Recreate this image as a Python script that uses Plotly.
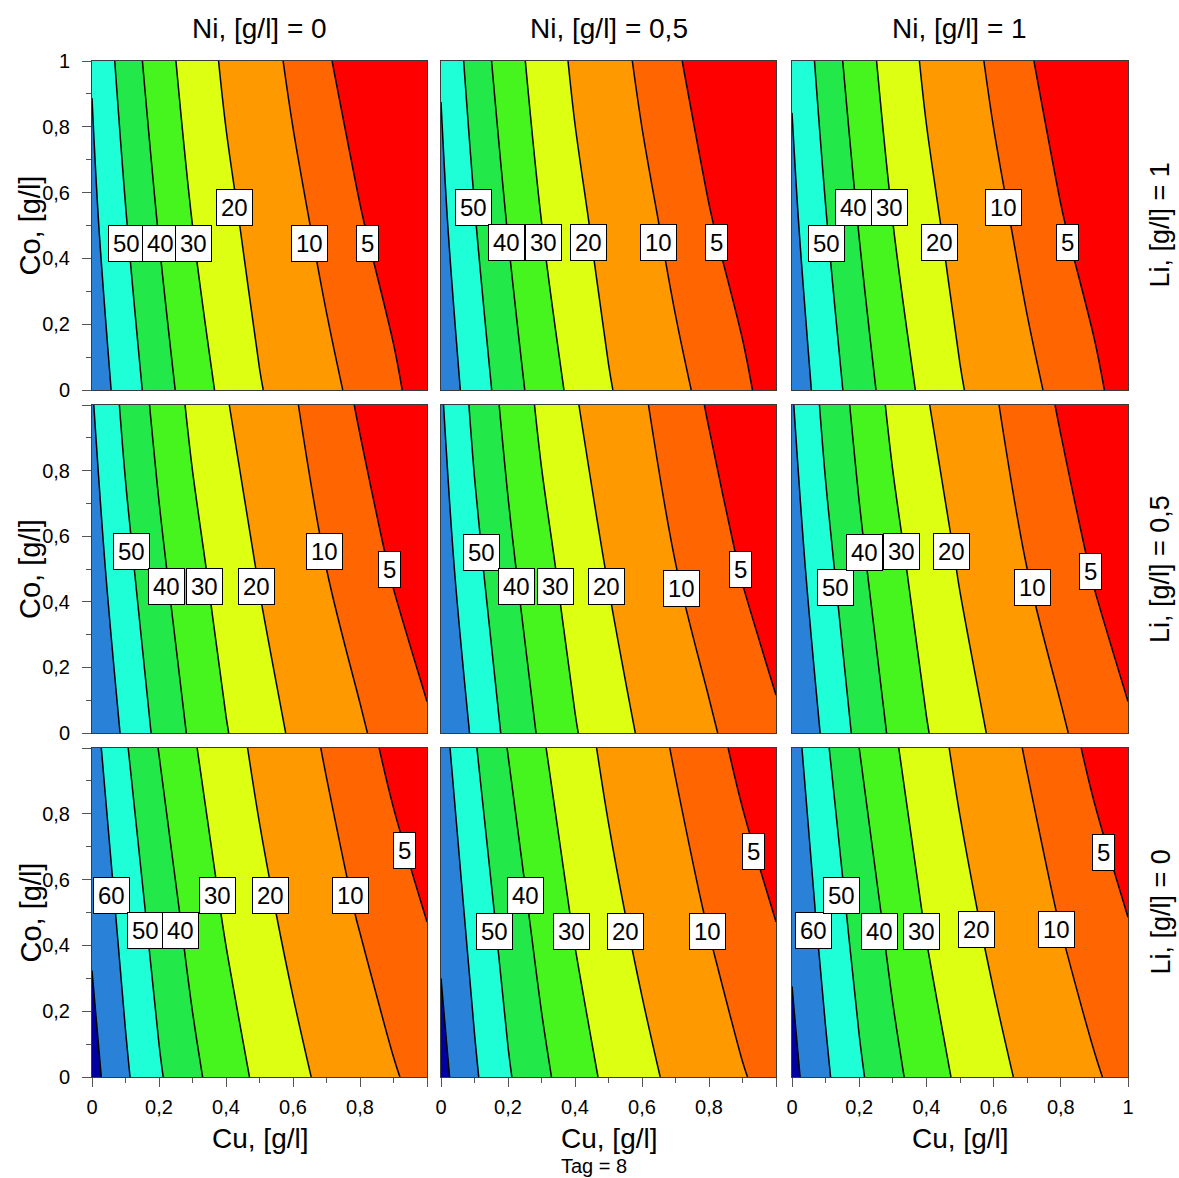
import plotly.graph_objects as go

W, H = 1179, 1178

# ---------------- data ----------------
CU = [0.0, 0.1, 0.2, 0.3, 0.4, 0.5, 0.6, 0.7, 0.8, 0.9, 1.0]   # x grid, Cu [g/l]
CO = [0.0, 0.5, 1.0]                                             # y grid, Co [g/l]
NI_VALUES = ["0", "0,5", "1"]          # columns
LI_VALUES = ["1", "0,5", "0"]          # rows, top to bottom

# z rows follow CO (Co = 0, 0.5, 1), columns follow CU
Z_LI1_NI0 = [[66.0, 55.5, 44.5, 35.2, 27.3, 20.5, 16.0, 11.6, 8.3, 5.7, 3.0],
             [62.4, 50.6, 39.5, 30.0, 22.3, 16.7, 11.9, 8.2, 5.3, 3.2, 1.5],
             [59.3, 45.6, 34.5, 25.6, 18.4, 13.1, 8.7, 5.4, 3.0, 1.5, 0.5]]
Z_LI1_NI05 = [[66.0, 55.6, 44.7, 35.3, 27.4, 20.6, 16.0, 11.5, 8.3, 5.8, 3.1],
              [62.4, 50.6, 39.6, 30.1, 22.4, 16.8, 11.9, 8.2, 5.3, 3.2, 1.5],
              [59.2, 45.6, 34.6, 25.7, 18.5, 13.2, 8.7, 5.5, 3.0, 1.5, 0.5]]
Z_LI1_NI1 = [[66.0, 55.6, 44.7, 35.3, 27.4, 20.6, 16.0, 11.5, 8.3, 5.8, 3.1],
             [62.4, 50.6, 39.6, 30.1, 22.4, 16.8, 11.9, 8.2, 5.3, 3.2, 1.5],
             [58.9, 45.6, 34.6, 25.7, 18.5, 13.2, 8.7, 5.5, 3.0, 1.5, 0.5]]

Z_LI05_NI0 = [[69.8, 58.1, 47.5, 38.3, 30.5, 24.3, 18.8, 14.7, 10.6, 7.9, 5.5],
              [64.8, 52.8, 42.1, 33.0, 25.7, 19.3, 14.7, 10.0, 7.3, 4.6, 2.9],
              [60.7, 47.6, 37.0, 28.0, 20.5, 15.4, 10.5, 7.4, 4.5, 3.0, 1.8]]
Z_LI05_NI05 = [[69.8, 58.3, 47.7, 38.5, 30.6, 24.4, 18.9, 14.8, 10.7, 8.0, 5.6],
               [64.8, 52.8, 42.2, 33.1, 25.8, 19.4, 14.8, 10.1, 7.4, 4.7, 3.0],
               [61.0, 47.8, 37.2, 28.1, 20.6, 15.5, 10.6, 7.5, 4.6, 3.0, 1.8]]
Z_LI05_NI1 = [[69.8, 58.1, 47.5, 38.3, 30.5, 24.3, 18.8, 14.7, 10.6, 7.9, 5.5],
              [64.8, 52.8, 42.1, 33.0, 25.7, 19.3, 14.7, 10.0, 7.3, 4.6, 2.9],
              [60.7, 47.6, 37.0, 28.0, 20.5, 15.4, 10.5, 7.4, 4.5, 3.0, 1.8]]

Z_LI0_NI0 = [[73.3, 61.4, 51.1, 42.3, 34.7, 28.0, 22.5, 17.9, 14.2, 10.4, 8.3],
             [68.2, 56.5, 45.6, 36.5, 28.8, 22.5, 17.4, 13.2, 9.4, 7.1, 4.8],
             [63.5, 50.9, 39.7, 31.0, 23.8, 17.9, 13.4, 9.3, 6.6, 3.8, 2.0]]
Z_LI0_NI05 = [[73.0, 61.3, 51.0, 42.3, 34.6, 27.9, 22.5, 17.9, 14.1, 10.3, 8.3],
              [68.0, 56.4, 45.6, 36.5, 28.8, 22.5, 17.4, 13.2, 9.4, 7.1, 4.8],
              [63.4, 50.8, 39.7, 31.0, 23.8, 17.9, 13.4, 9.3, 6.6, 3.8, 2.0]]
Z_LI0_NI1 = [[72.7, 61.5, 51.4, 42.6, 34.9, 28.2, 22.7, 18.1, 14.3, 10.5, 8.4],
             [67.8, 56.6, 45.9, 36.8, 29.0, 22.7, 17.6, 13.4, 9.5, 7.2, 4.9],
             [63.7, 51.2, 40.0, 31.3, 24.0, 18.1, 13.5, 9.4, 6.7, 3.9, 2.0]]

Z_PANELS = [[Z_LI1_NI0, Z_LI1_NI05, Z_LI1_NI1],
            [Z_LI05_NI0, Z_LI05_NI05, Z_LI05_NI1],
            [Z_LI0_NI0, Z_LI0_NI05, Z_LI0_NI1]]

# contour levels and the colour of each band
BAND_EDGES = [0, 5, 10, 20, 30, 40, 50, 60, 70, 75]
BAND_COLORS = ["#ff0000", "#ff6500", "#ff9900", "#dcff12", "#46f51e",
               "#22e84a", "#1effd8", "#2a82d8", "#0000a0"]

# contour labels of every panel: text
LABEL_TEXT = [[["50", "40", "30", "20", "10", "5"],
               ["50", "40", "30", "20", "10", "5"],
               ["50", "40", "30", "20", "10", "5"]],
              [["50", "40", "30", "20", "10", "5"],
               ["50", "40", "30", "20", "10", "5"],
               ["50", "40", "30", "20", "10", "5"]],
              [["60", "50", "40", "30", "20", "10", "5"],
               ["50", "40", "30", "20", "10", "5"],
               ["60", "50", "40", "30", "20", "10", "5"]]]

# ---------------- layout constants ----------------
LABEL_POS = [[[(0.103, 0.446), (0.204, 0.446), (0.302, 0.446), (0.426, 0.555), (0.648, 0.446), (0.821, 0.446)],
              [(0.097, 0.554), (0.196, 0.447), (0.305, 0.447), (0.440, 0.449), (0.649, 0.447), (0.823, 0.447)],
              [(0.103, 0.444), (0.184, 0.554), (0.289, 0.554), (0.440, 0.449), (0.628, 0.554), (0.820, 0.447)]],
             [[(0.118, 0.553), (0.223, 0.446), (0.337, 0.446), (0.492, 0.446), (0.694, 0.553), (0.888, 0.500)],
              [(0.121, 0.551), (0.226, 0.446), (0.343, 0.448), (0.493, 0.446), (0.718, 0.441), (0.893, 0.497)],
              [(0.128, 0.443), (0.215, 0.551), (0.325, 0.553), (0.474, 0.553), (0.715, 0.443), (0.887, 0.492)]],
             [[(0.058, 0.551), (0.159, 0.445), (0.264, 0.445), (0.376, 0.551), (0.533, 0.551), (0.771, 0.551), (0.932, 0.688)],
              [(0.161, 0.442), (0.251, 0.551), (0.390, 0.442), (0.551, 0.442), (0.796, 0.442), (0.932, 0.685)],
              [(0.063, 0.445), (0.146, 0.551), (0.259, 0.442), (0.386, 0.442), (0.548, 0.447), (0.788, 0.447), (0.927, 0.683)]]]

COL_PX = [(92, 427), (441, 776), (792, 1128)]
ROW_PX = [(61, 390), (405, 733), (748, 1077)]
FONT = "Liberation Sans, Arial, sans-serif"

zmax = BAND_EDGES[-1]
colorscale = []
for i, col in enumerate(BAND_COLORS):
    colorscale.append([BAND_EDGES[i] / zmax, col])
    colorscale.append([BAND_EDGES[i + 1] / zmax, col])

fig = go.Figure()
annotations = []
layout = {}

for r in range(3):
    for c in range(3):
        k = r * 3 + c + 1
        xs = "x" if k == 1 else f"x{k}"
        ys = "y" if k == 1 else f"y{k}"
        z = Z_PANELS[r][c]
        # filled bands
        fig.add_trace(go.Contour(
            x=CU, y=CO, z=z, xaxis=xs, yaxis=ys,
            autocontour=False, zauto=False, zmin=0, zmax=zmax,
            colorscale=colorscale, showscale=False, hoverinfo="skip",
            contours=dict(start=5, end=70, size=5, coloring="fill", showlines=False),
            line=dict(width=0, smoothing=1)))
        # lines at 10, 20, ... 70
        fig.add_trace(go.Contour(
            x=CU, y=CO, z=z, xaxis=xs, yaxis=ys,
            autocontour=False, showscale=False, hoverinfo="skip",
            contours=dict(start=10, end=70, size=10, coloring="none", showlines=True),
            line=dict(color="black", width=1.5, smoothing=1)))
        # line at 5
        fig.add_trace(go.Contour(
            x=CU, y=CO, z=z, xaxis=xs, yaxis=ys, showscale=False, hoverinfo="skip",
            contours=dict(type="constraint", operation="=", value=5),
            line=dict(color="black", width=1.5, smoothing=1)))

        x0, x1 = COL_PX[c]
        y0, y1 = ROW_PX[r]
        xa = dict(domain=[x0 / W, x1 / W], range=[0, 1], anchor=ys, automargin=False,
                  showgrid=False, zeroline=False, showline=True, mirror=True,
                  linecolor="#3a3a3a", linewidth=1, fixedrange=True)
        ya = dict(domain=[1 - y1 / H, 1 - y0 / H], range=[0, 1], anchor=xs, automargin=False,
                  showgrid=False, zeroline=False, showline=True, mirror=True,
                  linecolor="#3a3a3a", linewidth=1, fixedrange=True)
        if r == 2:
            xa.update(ticks="outside", ticklen=9, tickcolor="#555", showticklabels=True,
                      tickvals=[0, 0.2, 0.4, 0.6, 0.8, 1.0],
                      ticktext=["0", "0,2", "0,4", "0,6", "0,8", "1" if c == 2 else ""],
                      tickfont=dict(size=20, color="black", family=FONT),
                      ticklabelstandoff=3,
                      minor=dict(ticks="outside", ticklen=5, tickcolor="#555",
                                 tickvals=[0.1, 0.3, 0.5, 0.7, 0.9]))
        else:
            xa.update(ticks="", showticklabels=False)
        if c == 0:
            ya.update(ticks="outside", ticklen=9, tickcolor="#555", showticklabels=True,
                      tickvals=[0, 0.2, 0.4, 0.6, 0.8, 1.0],
                      ticktext=["0", "0,2", "0,4", "0,6", "0,8", "1" if r == 0 else ""],
                      tickfont=dict(size=20, color="black", family=FONT),
                      ticklabelstandoff=8,
                      minor=dict(ticks="outside", ticklen=5, tickcolor="#555",
                                 tickvals=[0.1, 0.3, 0.5, 0.7, 0.9]))
        else:
            ya.update(ticks="", showticklabels=False)
        layout["xaxis" if k == 1 else f"xaxis{k}"] = xa
        layout["yaxis" if k == 1 else f"yaxis{k}"] = ya

        for txt, (lx, ly) in zip(LABEL_TEXT[r][c], LABEL_POS[r][c]):
            annotations.append(dict(
                x=lx, y=ly, xref=xs, yref=ys, text=txt, showarrow=False,
                xanchor="center", yanchor="middle",
                font=dict(size=24, color="black", family=FONT),
                bgcolor="white", bordercolor="black", borderwidth=1, borderpad=4))


def paper_text(px, py, text, size, angle=0):
    annotations.append(dict(x=px / W, y=1 - py / H, xref="paper", yref="paper",
                            xanchor="center", yanchor="middle", text=text,
                            showarrow=False, textangle=angle,
                            font=dict(size=size, color="black", family=FONT)))


# column titles (Ni) and x titles
for c in range(3):
    cx = (COL_PX[c][0] + COL_PX[c][1]) / 2
    paper_text(cx, 29, f"Ni, [g/l] = {NI_VALUES[c]}", 28)
    paper_text(cx, 1138, "Cu, [g/l]", 28)
# row titles (Li) and y titles
for r in range(3):
    cy = (ROW_PX[r][0] + ROW_PX[r][1]) / 2
    paper_text(1160, cy, f"Li, [g/l] = {LI_VALUES[r]}", 27, -90)
    paper_text(30, cy, "Co, [g/l]", 29, -90)
paper_text(594, 1166, "Tag = 8", 20)

fig.update_layout(width=W, height=H, margin=dict(l=0, r=0, t=0, b=0),
                  paper_bgcolor="white", plot_bgcolor="white",
                  showlegend=False, annotations=annotations, **layout)

fig.write_html("out.html")
